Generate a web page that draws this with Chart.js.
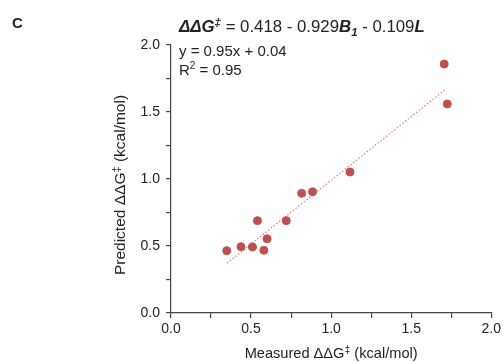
<!DOCTYPE html>
<html>
<head>
<meta charset="utf-8">
<script src="https://cdn.jsdelivr.net/npm/chart.js@4"></script>
<style>
  html, body { margin: 0; padding: 0; background: #fff; }
  #wrap { width: 504px; height: 363px; }
</style>
</head>
<body>
<div id="wrap"><canvas id="c" width="504" height="363"></canvas></div>
<script>
// measured vs predicted ΔΔG‡ (kcal/mol)
const measured = [0.348, 0.437, 0.509, 0.540, 0.580, 0.600, 0.720, 0.816, 0.884, 1.118, 1.706, 1.725];
const predicted = [0.465, 0.495, 0.493, 0.689, 0.468, 0.554, 0.689, 0.893, 0.905, 1.052, 1.858, 1.560];
const fitRange = [0.35, 1.72];
const fitSlope = 0.95;
const fitIntercept = 0.04;
const tickLabels = ["0.0", "0.5", "1.0", "1.5", "2.0"];

const FONT = "'Liberation Sans', Arial, sans-serif";
const INK = "#222";

const points = measured.map((x, i) => ({ x, y: predicted[i] }));
const fitLine = fitRange.map((x) => ({ x, y: fitSlope * x + fitIntercept }));

function tickText(v) {
  const i = Math.round(v / 0.5);
  return Math.abs(v - i * 0.5) < 1e-6 ? tickLabels[i] : "";
}

// text pieces: [text, style, offsetY, size]
function drawRich(ctx, parts, x, y) {
  let cx = x;
  parts.forEach(([t, style, dy, size]) => {
    ctx.font = `${style} ${size}px ${FONT}`;
    ctx.fillText(t, cx, y + dy);
    cx += ctx.measureText(t).width;
  });
}

function richWidth(ctx, parts) {
  let w = 0;
  parts.forEach(([t, s, d, z]) => { ctx.font = `${s} ${z}px ${FONT}`; w += ctx.measureText(t).width; });
  return w;
}

const textPlugin = {
  id: "texts",
  afterDraw(chart) {
    const ctx = chart.ctx;
    const a = chart.chartArea;
    ctx.save();
    ctx.fillStyle = INK;
    ctx.textBaseline = "alphabetic";
    ctx.textAlign = "left";

    ctx.font = `bold 15px ${FONT}`;
    ctx.fillText("C", 12, 28);

    drawRich(ctx, [
      ["ΔΔG", "italic bold", 0, 16.8],
      ["‡", "italic bold", -6, 11.5],
      [" = 0.418 - 0.929", "normal", 0, 16.8],
      ["B", "italic bold", 0, 16.8],
      ["1", "italic bold", 4, 11.5],
      [" - 0.109", "normal", 0, 16.8],
      ["L", "italic bold", 0, 16.8]
    ], 179, 31.5);

    ctx.font = `15px ${FONT}`;
    ctx.fillText("y = 0.95x + 0.04", 179, 56);
    drawRich(ctx, [
      ["R", "normal", 0, 15],
      ["2", "normal", -6, 10],
      [" = 0.95", "normal", 0, 15]
    ], 179, 75);

    // x axis title
    const xParts = [
      ["Measured ΔΔG", "normal", 0, 14.6],
      ["‡", "normal", -5, 10.5],
      [" (kcal/mol)", "normal", 0, 14.6]
    ];
    let w = richWidth(ctx, xParts);
    drawRich(ctx, xParts, (a.left + a.right) / 2 - w / 2, 358);

    // y axis title
    const yParts = [
      ["Predicted ΔΔG", "normal", 0, 15.5],
      ["‡", "normal", -5, 11],
      [" (kcal/mol)", "normal", 0, 15.5]
    ];
    w = richWidth(ctx, yParts);
    ctx.translate(125, 185);
    ctx.rotate(-Math.PI / 2);
    drawRich(ctx, yParts, -w / 2, 0);
    ctx.restore();
  }
};

const axisCommon = {
  type: "linear",
  min: 0,
  max: 2,
  border: { display: true, color: "#444", width: 1.2 },
  grid: { display: true, drawOnChartArea: false, drawTicks: true, tickLength: 5, color: "#444", lineWidth: 1.2 },
  ticks: {
    stepSize: 0.25,
    autoSkip: false,
    maxRotation: 0,
    color: INK,
    font: { family: FONT, size: 14 },
    callback: (v) => tickText(v)
  }
};

new Chart(document.getElementById("c"), {
  type: "scatter",
  data: {
    datasets: [
      {
        label: "fit",
        type: "line",
        data: fitLine,
        borderColor: "rgba(214,100,100,0.85)",
        borderWidth: 1.2,
        borderDash: [1.5, 2],
        pointRadius: 0,
        fill: false,
        order: 2
      },
      {
        label: "data",
        data: points,
        backgroundColor: "#c0504d",
        borderColor: "#c0504d",
        pointRadius: 4,
        pointHoverRadius: 4,
        order: 1
      }
    ]
  },
  options: {
    responsive: false,
    animation: false,
    layout: { padding: { left: 0, right: 11, top: 45, bottom: 0 } },
    plugins: { legend: { display: false }, tooltip: { enabled: false }, title: { display: false } },
    scales: {
      x: Object.assign({}, axisCommon, {
        position: "bottom",
        ticks: Object.assign({}, axisCommon.ticks, { padding: 3 }),
        afterFit: (s) => { s.height = 50; }
      }),
      y: Object.assign({}, axisCommon, {
        position: "left",
        ticks: Object.assign({}, axisCommon.ticks, { padding: 6 }),
        afterFit: (s) => { s.width = 171; }
      })
    }
  },
  plugins: [textPlugin]
});
</script>
</body>
</html>
